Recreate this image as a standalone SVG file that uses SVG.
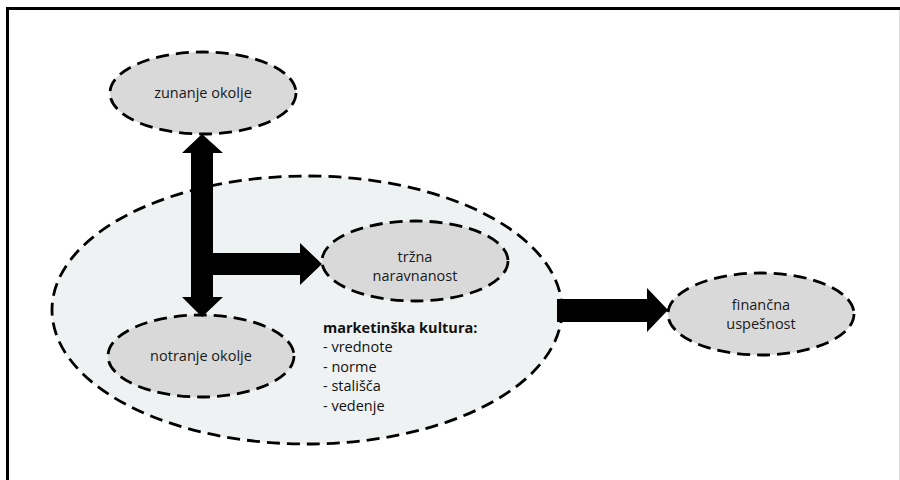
<svg xmlns="http://www.w3.org/2000/svg" width="900" height="480" viewBox="0 0 900 480">
<style>
.e{stroke:#000;stroke-width:2.8;stroke-dasharray:13 7}
.s{fill:#d9d9d9}
.t{font-family:"Open Sans","Liberation Sans",sans-serif;font-size:14.5px;fill:#1a1a1a;text-anchor:middle}
.l{font-family:"Open Sans","Liberation Sans",sans-serif;font-size:14.5px;fill:#111}
.a{fill:#000}
</style>
<rect width="900" height="480" fill="#fff"/>
<g id="frame">
<line x1="6" y1="8.5" x2="900" y2="8.5" stroke="#000" stroke-width="3"/>
<line x1="7.5" y1="7" x2="7.5" y2="480" stroke="#000" stroke-width="3"/>
<line x1="899.5" y1="10" x2="899.5" y2="480" stroke="#ddd" stroke-width="1"/>
</g>
<g id="marketinska-kultura">
<ellipse class="e" cx="307" cy="310" rx="255" ry="134" fill="#eff2f3"/>
<text class="l" x="323" y="333" font-weight="bold">marketinška kultura:</text>
<text class="l" x="323" y="352">- vrednote</text>
<text class="l" x="323" y="372">- norme</text>
<text class="l" x="323" y="391">- stališča</text>
<text class="l" x="323" y="411">- vedenje</text>
</g>
<g id="zunanje-okolje">
<ellipse class="e s" cx="203" cy="93" rx="93" ry="41"/>
<text class="t" x="203" y="98">zunanje okolje</text>
</g>
<g id="trzna-naravnanost">
<ellipse class="e s" cx="415" cy="261" rx="93" ry="40"/>
<text class="t" x="415" y="262">tržna</text>
<text class="t" x="415" y="281">naravnanost</text>
</g>
<g id="notranje-okolje">
<ellipse class="e s" cx="201" cy="356" rx="93" ry="41"/>
<text class="t" x="201" y="361">notranje okolje</text>
</g>
<g id="financna-uspesnost">
<ellipse class="e s" cx="761" cy="314" rx="93" ry="41"/>
<text class="t" x="761" y="310">finančna</text>
<text class="t" x="761" y="329">uspešnost</text>
</g>
<g id="connectors">
<polygon class="a" points="202,134 223,153 213,153 213,297 223,297 202,317 182,297 191,297 191,153 182,153"/>
<polygon class="a" points="212,253 300,253 300,243 322,264 300,285 300,275 212,275"/>
<polygon class="a" points="557,299 647,299 647,288 668,310 647,332 647,322 557,322"/>
</g>
</svg>
